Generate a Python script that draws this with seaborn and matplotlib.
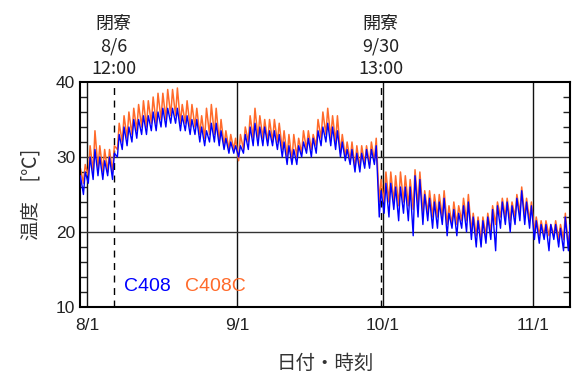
import matplotlib
matplotlib.use("Agg")
import matplotlib.pyplot as plt
from matplotlib.ticker import MultipleLocator
import numpy as np
import pandas as pd
import seaborn as sns

# Daily series, 2019-07-30 .. 2019-11-08 (one entry per day)
start_day = "2019-07-30"
n_days = 102

# C408: daily minimum / maximum temperature [°C]
c408_low = [
    24.5, 25.0,
    26.5, 27.0, 27.5, 27.0, 27.5, 27.0, 30.0, 31.0, 31.5, 32.0, 32.5, 33.0, 33.0, 33.5,
    33.5, 34.0, 34.0, 34.5, 34.5, 33.5, 33.5, 33.0, 33.0, 32.0, 31.5, 32.0, 32.0, 31.5,
    31.0, 30.5, 30.5,
    30.0, 30.5, 31.0, 31.5, 31.5, 31.5, 31.5, 31.5, 31.0, 30.0, 29.0, 29.0, 29.0, 30.0,
    30.5, 30.0, 30.5, 31.5, 32.0, 31.5, 31.0, 30.0, 29.5, 29.0, 28.0, 28.0, 28.5, 28.5,
    29.0, 22.0,
    22.5, 22.0, 23.0, 21.5, 22.5, 21.5, 19.5, 22.0, 21.0, 21.5, 20.5, 20.5, 21.0, 19.5,
    20.5, 19.5, 20.5, 20.0, 19.0, 18.0, 18.0, 18.5, 19.0, 17.5, 20.5, 21.0, 20.0, 21.0,
    21.5, 21.0, 20.5,
    19.0, 18.5, 19.0, 17.5, 19.0, 18.0, 17.5, 17.5,
]
c408_high = [
    27.5, 28.0,
    30.0, 31.0, 30.0, 29.5, 30.0, 30.5, 33.0, 34.0, 34.0, 35.0, 35.0, 35.5, 35.5, 36.0,
    36.0, 36.5, 36.5, 36.5, 36.5, 35.5, 35.5, 35.0, 35.0, 34.0, 33.5, 34.5, 34.5, 33.5,
    32.5, 32.0, 31.5,
    31.5, 33.0, 34.0, 34.5, 34.0, 34.0, 33.5, 33.5, 33.0, 32.0, 31.5, 31.0, 31.5, 32.0,
    32.5, 32.5, 33.5, 34.0, 34.5, 34.0, 33.5, 32.0, 31.0, 31.0, 30.5, 30.5, 31.0, 31.0,
    31.5, 25.5,
    26.5, 26.5, 26.0, 26.0, 26.0, 26.0, 27.5, 27.0, 25.0, 24.5, 24.0, 24.0, 24.5, 22.5,
    23.0, 22.5, 23.5, 24.0, 22.0, 21.5, 21.5, 22.0, 23.0, 23.5, 24.0, 24.0, 23.5, 24.5,
    25.5, 24.0, 23.5,
    21.5, 21.0, 21.0, 21.0, 21.0, 20.5, 22.0, 21.0,
]

# C408C: daily minimum / maximum temperature [°C]
c408c_low = [
    26.0, 26.5,
    27.5, 28.0, 28.5, 28.0, 28.0, 28.0, 31.0, 32.0, 32.5, 33.0, 33.5, 34.0, 34.0, 34.5,
    34.5, 35.0, 35.0, 35.5, 35.5, 34.5, 34.5, 34.0, 34.0, 33.0, 32.5, 33.0, 33.0, 32.0,
    31.5, 31.0, 31.0,
    29.5, 31.0, 32.0, 32.5, 32.5, 32.5, 32.0, 32.0, 32.0, 31.0, 30.0, 29.5, 30.0, 30.5,
    31.0, 31.0, 31.5, 32.5, 33.0, 32.5, 32.0, 30.5, 30.0, 29.5, 28.5, 28.5, 29.0, 29.0,
    29.5, 24.0,
    24.0, 24.0, 24.0, 23.5, 24.0, 23.5, 23.0, 23.5, 22.5, 22.5, 22.0, 22.0, 22.0, 21.0,
    21.0, 21.0, 21.5, 21.5, 20.0, 19.5, 19.0, 19.5, 20.0, 21.0, 22.0, 22.0, 21.5, 22.0,
    22.5, 22.0, 21.5,
    20.0, 19.5, 19.5, 19.5, 19.5, 19.0, 19.0, 18.0,
]
c408c_high = [
    28.5, 29.0,
    31.5, 33.5, 31.5, 31.0, 31.0, 31.5, 34.5, 35.5, 36.0, 36.5, 37.0, 37.5, 37.5, 38.0,
    38.5, 38.5, 39.0, 39.0, 39.2, 37.0, 37.5, 37.0, 36.5, 35.5, 36.5, 37.0, 36.5, 35.0,
    33.5, 33.0, 32.5,
    33.0, 34.0, 35.5, 36.5, 35.5, 35.0, 35.0, 35.0, 34.5, 33.5, 33.0, 33.0, 32.5, 33.5,
    33.5, 33.0, 35.0, 36.0, 36.5, 35.5, 35.5, 33.0, 32.0, 32.0, 31.5, 31.5, 31.5, 32.0,
    32.5, 27.0,
    28.0, 28.0, 27.5, 28.0, 27.5, 27.0, 28.3, 28.0, 25.5, 25.5, 25.0, 25.0, 25.5, 23.5,
    24.0, 23.5, 24.5, 25.0, 22.5, 22.0, 22.0, 22.5, 23.5, 24.0, 24.5, 24.5, 24.0, 25.0,
    26.0, 24.5, 24.0,
    22.0, 21.5, 21.5, 21.0, 21.5, 21.0, 22.5, 21.0,
]

month_starts = ["2019-08-01", "2019-09-01", "2019-10-01", "2019-11-01"]
month_labels = ["8/1", "9/1", "10/1", "11/1"]
events = ["2019-08-06 12:00", "2019-09-30 13:00"]
event_labels = ["閉寮\n8/6\n12:00", "開寮\n9/30\n13:00"]
series_names = ["C408", "C408C"]
series_colors = ["#0000FF", "#FF6A2A"]


def to_frame(lows, highs, name):
    days = pd.date_range(start_day, periods=n_days, freq="D")
    t = np.concatenate([days + pd.Timedelta(hours=6), days + pd.Timedelta(hours=15)])
    v = np.concatenate([lows, highs])
    df = pd.DataFrame({"時刻": t, "温度": v, "室": name})
    return df.sort_values("時刻")


df_a = to_frame(c408_low, c408_high, series_names[0])
df_b = to_frame(c408c_low, c408c_high, series_names[1])

sns.set_theme(style="white")
plt.rcParams["font.family"] = ["Liberation Sans", "Noto Sans CJK JP", "DejaVu Sans"]
ink = "#222222"
cjk = ["Noto Sans CJK JP", "Liberation Sans"]

fig = plt.figure(figsize=(5.73, 3.75), dpi=100)
ax = fig.add_axes([80 / 573, 68 / 375, 490 / 573, 225 / 375])

# reference lines first so the data sits on top
for d in month_starts:
    ax.axvline(pd.Timestamp(d), color="#111111", lw=1.0, zorder=1)
for y in (20, 30):
    ax.axhline(y, color="#333333", lw=1.0, zorder=1)
for e in events:
    ax.axvline(pd.Timestamp(e), color="black", lw=1.0, ls=(0, (5, 4)), zorder=1)

sns.lineplot(data=df_b, x="時刻", y="温度", color=series_colors[1], lw=1.1,
             ax=ax, zorder=2, estimator=None)
sns.lineplot(data=df_a, x="時刻", y="温度", color=series_colors[0], lw=1.0,
             ax=ax, zorder=3, estimator=None)

ax.set_xlim(pd.Timestamp("2019-07-30 13:00"), pd.Timestamp("2019-11-08 14:00"))
ax.set_ylim(10, 40)
ax.set_yticks([10, 20, 30, 40])
ax.yaxis.set_minor_locator(MultipleLocator(2))
ax.tick_params(axis="y", which="both", direction="in", left=True, right=True,
               labelsize=12.5, colors=ink, length=5, width=1)
ax.tick_params(axis="y", which="major", length=0)
ax.set_xticks([pd.Timestamp(d) for d in month_starts])
ax.set_xticklabels(month_labels)
ax.tick_params(axis="x", which="both", length=0, labelsize=12.5, colors=ink, pad=8)

for s in ax.spines.values():
    s.set_color("black")
    s.set_linewidth(1.5)

ax.set_xlabel("日付・時刻", fontsize=14, color="#333333", labelpad=14, family=cjk)
ax.set_ylabel("温度　[℃]", fontsize=14, color="#333333", labelpad=10, family=cjk)

for e, lab in zip(events, event_labels):
    ax.text(pd.Timestamp(e), 1.02, lab, transform=ax.get_xaxis_transform(),
            ha="center", va="bottom", fontsize=13, color=ink, linespacing=1.3,
            family=cjk)

ax.text(0.09, 0.09, series_names[0], transform=ax.transAxes, color=series_colors[0],
        fontsize=14, ha="left", va="center")
ax.text(0.215, 0.09, series_names[1], transform=ax.transAxes, color=series_colors[1],
        fontsize=14, ha="left", va="center")

fig.savefig("out.png", dpi=100)
